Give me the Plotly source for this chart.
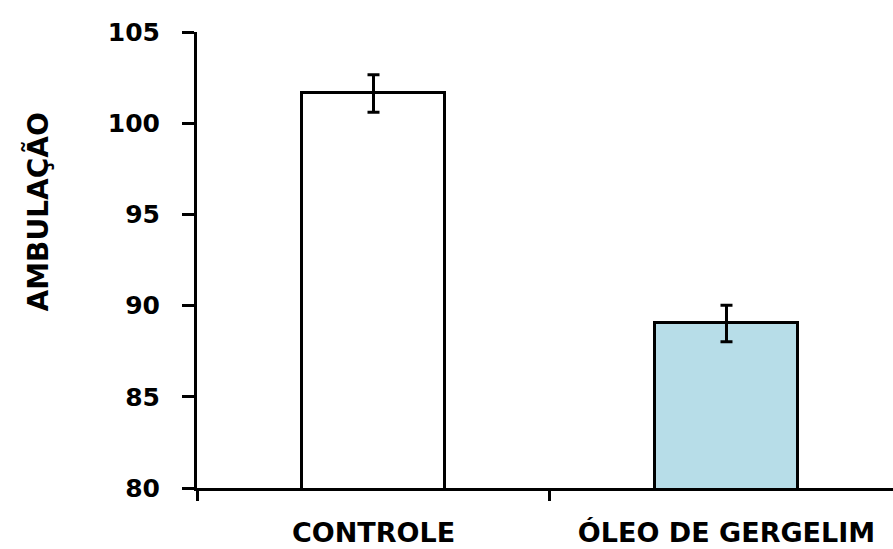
import plotly.graph_objects as go

categories = ["CONTROLE", "ÓLEO DE GERGELIM"]
means = [101.63, 89.02]
errors = [1.03, 1.0]
fills = ["#ffffff", "#b7dde8"]
y_ticks = [80, 85, 90, 95, 100, 105]
y_title = "AMBULAÇÃO"

FONT = "DejaVu Sans"
xpos = list(range(len(categories)))
boundaries = [i - 0.5 for i in range(len(categories) + 1)]
xrange = [-0.5, 1.4717]

fig = go.Figure()
fig.add_trace(go.Bar(
    x=xpos, y=means, width=0.405,
    marker=dict(color=fills, line=dict(color="black", width=3)),
    error_y=dict(type="data", array=errors, visible=True, color="black", thickness=3, width=6),
    xaxis="x", yaxis="y", showlegend=False,
))
# invisible trace to bind secondary x axis (boundary tick marks)
fig.add_trace(go.Scatter(x=boundaries, y=[80] * len(boundaries), mode="markers",
                         marker=dict(opacity=0), xaxis="x2", yaxis="y",
                         showlegend=False, hoverinfo="skip"))

fig.update_layout(
    width=893, height=549,
    margin=dict(l=197, r=0, t=32, b=61),
    plot_bgcolor="white", paper_bgcolor="white",
    font=dict(family=FONT, color="black", size=23),
    bargap=0,
    xaxis=dict(
        range=xrange, tickvals=xpos, ticktext=categories,
        ticks="outside", ticklen=21, tickcolor="rgba(0,0,0,0)",
        tickfont=dict(family=FONT, size=27, color="black", weight="bold"),
        showline=False, showgrid=False, zeroline=False,
    ),
    xaxis2=dict(
        range=xrange, overlaying="x", anchor="y", side="bottom",
        tickvals=boundaries, showticklabels=False,
        ticks="outside", ticklen=10, tickwidth=3, tickcolor="black",
        showline=True, linecolor="black", linewidth=3,
        showgrid=False, zeroline=False,
    ),
    yaxis=dict(
        range=[80, 105], tickvals=y_ticks,
        ticks="outside", ticklen=12, tickwidth=3, tickcolor="black",
        ticklabelstandoff=17,
        showline=True, linecolor="black", linewidth=3,
        showgrid=False, zeroline=False,
        tickfont=dict(family=FONT, size=25, color="black", weight="bold"),
    ),
    annotations=[dict(
        text=y_title, textangle=-90, xref="paper", yref="paper",
        x=-0.228, y=0.605, xanchor="center", yanchor="middle", showarrow=False,
        font=dict(family=FONT, size=28, color="black", weight="bold"),
    )],
)

fig.write_html("out.html", config={"displayModeBar": False},
               post_script="document.body.style.margin='0';document.body.style.overflow='hidden';")
